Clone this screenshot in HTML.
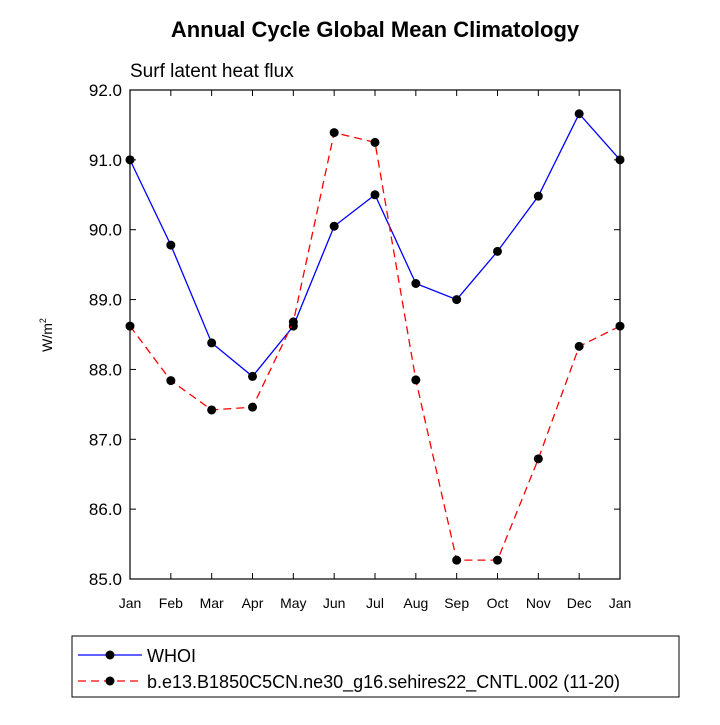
<!DOCTYPE html>
<html><head><meta charset="utf-8"><style>
body{margin:0;background:#fff;}
svg text{font-family:"Liberation Sans",Arial,sans-serif;fill:#000;}
</style></head><body>
<svg id="chart" width="720" height="720" viewBox="0 0 720 720">
<text x="375" y="37" text-anchor="middle" font-size="22" font-weight="bold">Annual Cycle Global Mean Climatology</text>
<text x="130" y="77" font-size="19">Surf latent heat flux</text>
<text transform="translate(52,335) rotate(-90)" text-anchor="middle" font-size="14">W/m<tspan dy="-6" font-size="9">2</tspan></text>
<g id="axes"></g>
<g id="series"></g>
<rect x="72" y="636" width="607" height="61" fill="none" stroke="#000" stroke-width="1"/>
<g>
<line x1="78" y1="655" x2="142" y2="655" stroke="#0000ff" stroke-width="1.2"/>
<circle cx="110" cy="655" r="4.5" fill="#000"/>
<text x="147" y="662" font-size="18">WHOI</text>
</g>
<g>
<line x1="78" y1="681" x2="142" y2="681" stroke="#ff0000" stroke-width="1.2" stroke-dasharray="8,5"/>
<circle cx="110" cy="681" r="4.5" fill="#000"/>
<text x="147" y="688" font-size="18">b.e13.B1850C5CN.ne30_g16.sehires22_CNTL.002 (11-20)</text>
</g>
</svg>
<script>
const months=["Jan","Feb","Mar","Apr","May","Jun","Jul","Aug","Sep","Oct","Nov","Dec","Jan"];
const whoi=[91.0,89.78,88.38,87.9,88.62,90.05,90.5,89.23,89.0,89.69,90.48,91.66,91.0];
const cntl=[88.62,87.84,87.42,87.46,88.68,91.39,91.25,87.85,85.27,85.27,86.72,88.33,88.62];
const yTicks=[85,86,87,88,89,90,91,92];
const NS="http://www.w3.org/2000/svg";
const L=130,R=620,T=90,B=579,ymin=85,ymax=92;
const xs=i=>L+(R-L)*i/(months.length-1);
const ys=v=>B-(B-T)*(v-ymin)/(ymax-ymin);
function mk(tag,attrs,parent){const e=document.createElementNS(NS,tag);for(const k in attrs)e.setAttribute(k,attrs[k]);parent.appendChild(e);return e;}
const ax=document.getElementById('axes');
const frame=mk('rect',{x:L,y:T,width:R-L,height:B-T,fill:'none',stroke:'#000','stroke-width':1.2},ax);


yTicks.forEach(v=>{const y=ys(v);
mk('line',{x1:L,y1:y,x2:L+6,y2:y,stroke:'#000'},ax);
mk('line',{x1:R,y1:y,x2:R-6,y2:y,stroke:'#000'},ax);
const t=mk('text',{x:L-8,y:y+6,'text-anchor':'end','font-size':17},ax);t.textContent=v.toFixed(1);

});
months.forEach((m,i)=>{const x=xs(i);
mk('line',{x1:x,y1:B,x2:x,y2:B-6,stroke:'#000'},ax);
mk('line',{x1:x,y1:T,x2:x,y2:T+6,stroke:'#000'},ax);
const t=mk('text',{x:x,y:B+29,'text-anchor':'middle','font-size':14},ax);t.textContent=m;

});
const sg=document.getElementById('series');
function draw(vals,color,dash,name){
const g=mk('g',{},sg);


const pts=vals.map((v,i)=>xs(i)+','+ys(v)).join(' ');
const a={points:pts,fill:'none',stroke:color,'stroke-width':1.3};if(dash)a['stroke-dasharray']=dash;
mk('polyline',a,g);
vals.forEach((v,i)=>{const c=mk('circle',{cx:xs(i),cy:ys(v),r:4.5,fill:'#000'},g);

});}
draw(whoi,'#0000ff',null,'series-whoi');
draw(cntl,'#ff0000','8,5','series-cntl');
</script>
</body></html>
